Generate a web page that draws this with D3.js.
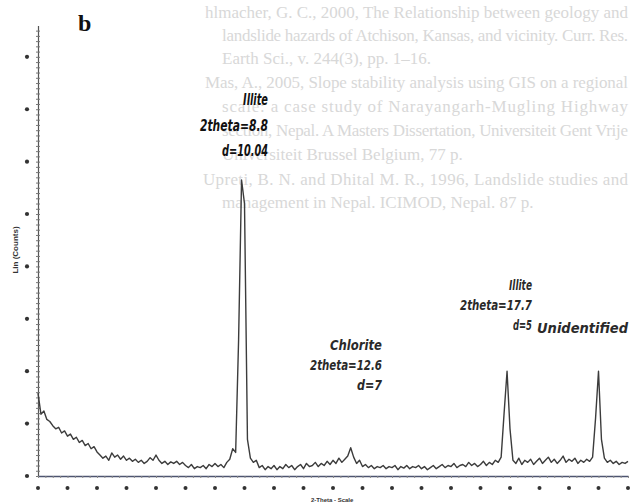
<!DOCTYPE html>
<html><head><meta charset="utf-8">
<script src="https://cdn.jsdelivr.net/npm/d3@7"></script>
<style>
html,body{margin:0;padding:0;background:#fff;}
svg{display:block;}
</style>
</head><body>
<script>
// ---- data ----
const twoThetaStart = 2.0;   // degrees
const twoThetaStep = 0.1;    // degrees
const counts = [
  158,118,124,108,104,96,90,93,82,86,      // 2.x
  76,80,70,74,64,68,58,62,52,56,           // 3.x
  46,40,34,38,30,44,36,40,32,38,           // 4.x
  30,34,28,32,26,30,24,28,35,30,           // 5.x
  40,30,24,28,22,27,24,28,22,26,           // 6.x
  20,16,22,14,18,16,20,14,22,18,           // 7.x
  24,18,22,16,26,32,52,45,260,565,         // 8.x
  520,70,34,26,30,16,20,12,18,14,          // 9.x
  20,12,18,14,22,16,20,12,18,22,           // 10.x
  14,24,18,20,26,18,24,20,28,22,           // 11.x
  30,24,34,26,32,38,54,36,24,30,           // 12.x
  18,22,16,20,14,18,16,20,14,18,           // 13.x
  16,20,12,18,15,20,14,18,16,20,           // 14.x
  14,18,12,16,20,14,18,22,16,20,           // 15.x
  18,24,16,20,22,18,26,20,24,18,           // 16.x
  22,28,20,26,22,30,26,36,120,200,         // 17.x
  90,30,24,34,22,30,26,32,22,28,           // 18.x
  34,24,30,36,26,32,24,30,38,26,           // 19.x
  32,28,34,24,30,26,32,28,36,110,          // 20.x
  200,70,34,26,30,24,28,22,26,24,          // 21.x
  28                                        // 22.0
];
const xTicks = [2,3,4,5,6,7,8,9,10,11,12,13,14,15,16,17,18,19,20,21,22];
const yTicks = [0,100,200,300,400,500,600,700,800];
const annotations = [
  {x: 9.0,  lines: ["Illite", "2theta=8.8", "d=10.04"]},
  {x: 12.6, lines: ["Chlorite", "2theta=12.6", "d=7"]},
  {x: 17.9, lines: ["Illite", "2theta=17.7", "d=5"]},
  {x: 21.0, lines: ["Unidentified"]}
];
const panelLabel = "b";
const yAxisTitle = "Lin (Counts)";
const xAxisTitle = "2-Theta - Scale";
const ghostLines = [
  "hlmacher, G. C., 2000, The Relationship between geology and",
  "landslide hazards of Atchison, Kansas, and vicinity. Curr. Res.",
  "Earth Sci., v. 244(3), pp. 1–16.",
  "Mas, A., 2005, Slope stability analysis using GIS on a regional",
  "scale: a case study of Narayangarh-Mugling Highway",
  "section, Nepal. A Masters Dissertation, Universiteit Gent Vrije",
  "Universiteit Brussel Belgium, 77 p.",
  "Upreti, B. N. and Dhital M. R., 1996, Landslide studies and",
  "management in Nepal. ICIMOD, Nepal. 87 p."
];

// ---- layout ----
const W = 630, H = 504;
const svg = d3.select("body").append("svg").attr("width", W).attr("height", H);

// faint show-through text from the other side of the page
const ghostPos = [
  {x:205,y:18,w:423},{x:222,y:41,w:406},{x:222,y:64,w:0},
  {x:205,y:88,w:423},{x:222,y:112,w:406},{x:222,y:136,w:406},
  {x:222,y:160,w:0},{x:203,y:185,w:425},{x:222,y:208,w:0}
];
const ghost = svg.append("g").attr("font-family","Liberation Serif, DejaVu Serif, serif")
  .attr("font-size",17).attr("fill","#d8d8d8");
ghostLines.forEach((t,i)=>{
  const p = ghostPos[i];
  const el = ghost.append("text").attr("x",p.x).attr("y",p.y).text(t);
  if (p.w) el.attr("textLength",p.w).attr("lengthAdjust","spacing");
});

const x = d3.scaleLinear().domain([2,22]).range([38,628]);
const y = d3.scaleLinear().domain([0,860]).range([476,25.4]);

// y axis with minor ticks
const yMinor = d3.range(0, 860, 10);
svg.append("g").attr("transform","translate(38,0)")
  .call(d3.axisLeft(y).tickValues(yMinor).tickSize(2).tickSizeOuter(0).tickFormat(""))
  .call(g=>{g.select(".domain").attr("stroke","#555").attr("stroke-width",1.2);
            g.selectAll(".tick line").attr("stroke","#777").attr("x2",2).attr("x1",-2);});
// y major marks (tiny labels rendered as dots)
svg.append("g").selectAll("circle").data(yTicks).join("circle")
  .attr("cx",27).attr("cy",d=>y(d)).attr("r",2.1).attr("fill","#333");

// x axis
const xMinor = d3.range(2, 22.01, 0.25);
svg.append("g").attr("transform","translate(0,476)")
  .call(d3.axisBottom(x).tickValues(xMinor).tickSize(2).tickSizeOuter(0).tickFormat(""))
  .call(g=>{g.select(".domain").attr("stroke","#4d5470").attr("stroke-width",1.6);
            g.selectAll(".tick line").attr("stroke","#888");});
svg.append("g").selectAll("circle").data(xTicks).join("circle")
  .attr("cx",d=>x(d)).attr("cy",488).attr("r",2).attr("fill","#333");

// pattern trace
const data = counts.map((c,i)=>({t: twoThetaStart + i*twoThetaStep, c}));
svg.append("path").datum(data)
  .attr("fill","none").attr("stroke","#3c3c3c").attr("stroke-width",1.4)
  .attr("stroke-linejoin","round")
  .attr("d", d3.line().x(d=>x(d.t)).y(d=>y(d.c)));

// annotations (condensed italic labels)
const annFont = "'Liberation Sans Narrow', 'DejaVu Sans Condensed', 'Arial Narrow', sans-serif";
const annPos = [
  {right:268, base:105, step:25.5, size:15,   fill:"#111",    widths:[25,68,46]},
  {right:382, base:350, step:20,   size:14.5, fill:"#2a2a2a", widths:[52,72,25]},
  {right:532, base:290, step:20,   size:14.5, fill:"#2a2a2a", widths:[23,72,19]},
  {right:628, base:333, step:20,   size:14.5, fill:"#2a2a2a", widths:[91]}
];
annotations.forEach((a,i)=>{
  const p = annPos[i];
  const g = svg.append("g").attr("font-family",annFont).attr("font-style","italic")
    .attr("font-weight","bold").attr("font-size",p.size).attr("fill",p.fill);
  a.lines.forEach((l,j)=>{
    g.append("text").attr("x",p.right - p.widths[j]).attr("y",p.base + j*p.step)
      .attr("textLength",p.widths[j]).attr("lengthAdjust","spacingAndGlyphs").text(l);
  });
});

// panel letter
svg.append("text").attr("x",78).attr("y",31).attr("font-family","Liberation Serif, DejaVu Serif, serif")
  .attr("font-weight","bold").attr("font-size",24).attr("fill","#111").text(panelLabel);

// axis titles
svg.append("text").attr("transform","translate(18,250) rotate(-90)")
  .attr("text-anchor","middle").attr("font-family","Liberation Sans, Arial, sans-serif")
  .attr("font-weight","bold").attr("font-size",8).attr("fill","#333").text(yAxisTitle);
svg.append("text").attr("x",311).attr("y",502)
  .attr("font-family","Liberation Sans, Arial, sans-serif")
  .attr("font-weight","bold").attr("font-size",6).attr("fill","#333").text(xAxisTitle);
</script>
</body></html>
